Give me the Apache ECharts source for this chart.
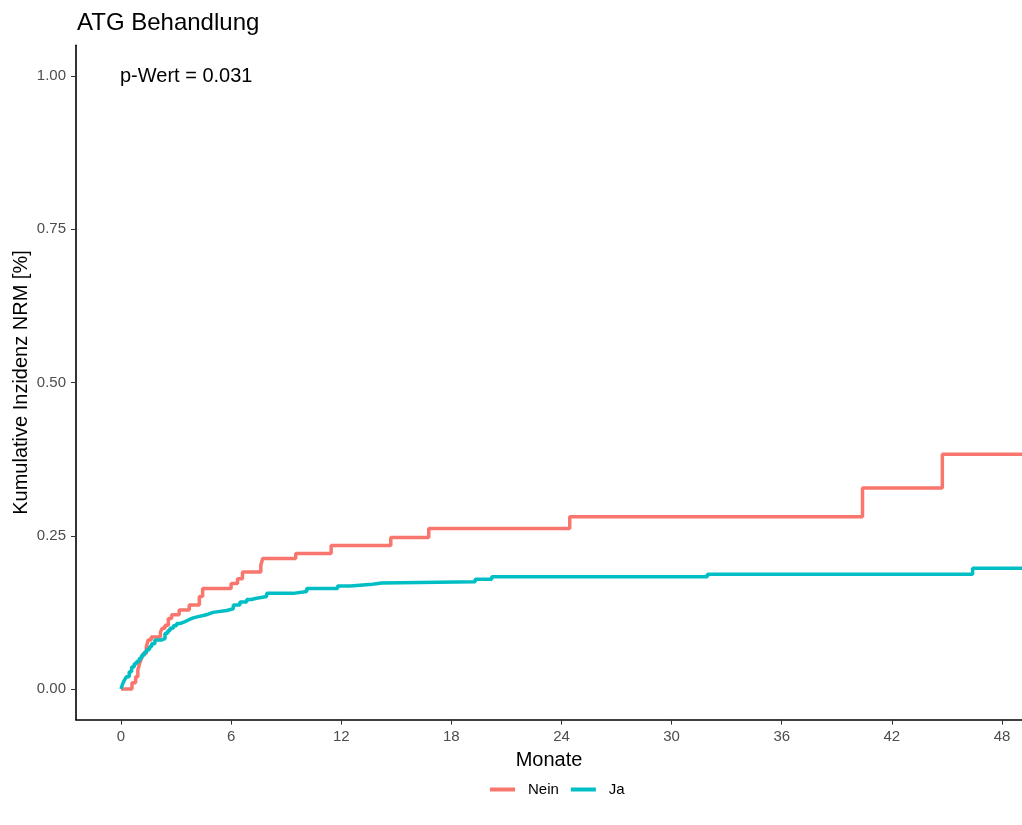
<!DOCTYPE html>
<html>
<head>
<meta charset="utf-8">
<script src="https://cdn.jsdelivr.net/npm/echarts@6/dist/echarts.min.js"></script>
<style>
html,body{margin:0;padding:0;background:#fff;}
#chart{width:1022px;height:825px;}
</style>
</head>
<body>
<div id="chart"></div>
<script>
// Data
var neinT = [0, 0.6, 0.8, 0.92, 1.02, 1.12, 1.22, 1.38, 1.48, 1.65, 2.15, 2.25, 2.4, 2.58, 2.76, 3.17, 3.72, 4.27, 4.45, 6.0, 6.35, 6.62, 7.62, 7.72, 9.52, 11.45, 14.7, 16.77, 24.45, 40.4, 44.75, 49.2];
var neinV = [0, 0.01, 0.02, 0.031, 0.042, 0.05, 0.058, 0.069, 0.08, 0.085, 0.093, 0.099, 0.104, 0.115, 0.121, 0.129, 0.137, 0.151, 0.164, 0.172, 0.18, 0.191, 0.202, 0.213, 0.221, 0.234, 0.247, 0.262, 0.281, 0.328, 0.383, 0.383];
var jaT = [0, 0.1, 0.2, 0.3, 0.45, 0.58, 0.72, 0.85, 1.0, 1.13, 1.27, 1.4, 1.55, 1.67, 1.85, 2.22, 2.4, 2.55, 2.67, 2.85, 3.03, 3.25, 3.49, 3.7, 3.94, 4.2, 4.48, 4.75, 5.02, 5.76, 6.12, 6.48, 6.85, 7.1, 7.39, 7.94, 9.39, 10.12, 11.8, 12.5, 13.7, 14.2, 19.3, 20.2, 31.95, 46.4, 49.2];
var jaV = [0, 0.009, 0.015, 0.02, 0.028, 0.036, 0.041, 0.045, 0.05, 0.055, 0.06, 0.064, 0.069, 0.074, 0.08, 0.082, 0.091, 0.095, 0.099, 0.103, 0.107, 0.11, 0.113, 0.116, 0.118, 0.12, 0.122, 0.125, 0.128, 0.131, 0.137, 0.142, 0.146, 0.148, 0.151, 0.156, 0.159, 0.164, 0.168, 0.171, 0.173, 0.175, 0.179, 0.183, 0.187, 0.197, 0.197];
var xTicks = [0, 6, 12, 18, 24, 30, 36, 42, 48];
var yTicks = [0, 0.25, 0.5, 0.75, 1.0];
var seriesNames = ['Nein', 'Ja'];
var colors = ['#F8766D', '#00BFC4'];

function pairs(t, v) { return t.map(function (x, i) { return [x, v[i]]; }); }

var chart = echarts.init(document.getElementById('chart'), null, {renderer: 'canvas'});
var font = 'Liberation Sans, Arial, sans-serif';
chart.setOption({
  animation: false,
  backgroundColor: '#ffffff',
  color: colors,
  title: {
    text: 'ATG Behandlung', left: 72, top: 6,
    textStyle: {fontFamily: font, fontSize: 24, fontWeight: 'normal', color: '#000'}
  },
  grid: {left: 76, right: 0, top: 45.35, bottom: 105.35, containLabel: false, outerBoundsMode: 'none'},
  legend: {
    data: seriesNames, left: 485, top: 777, icon: 'rect', itemWidth: 25, itemHeight: 4, itemGap: 12,
    textStyle: {fontFamily: font, fontSize: 15, color: '#000', padding: [0, 0, 0, 8]}
  },
  graphic: [{
    type: 'text', left: 120, top: 66,
    style: {text: 'p-Wert = 0.031', font: '20px Liberation Sans, Arial, sans-serif', fill: '#000'}
  }],
  xAxis: {
    type: 'value', min: -2.45, max: 49.09,
    name: 'Monate', nameLocation: 'middle', nameGap: 31, nameMoveOverlap: false,
    nameTextStyle: {fontFamily: font, fontSize: 20, color: '#000'},
    axisLine: {show: true, onZero: false, lineStyle: {color: '#000', width: 1.6}},
    axisTick: {show: true, length: 5, customValues: xTicks, lineStyle: {color: '#333', width: 1}},
    axisLabel: {customValues: xTicks, fontFamily: font, fontSize: 15, color: '#4D4D4D', margin: 10},
    splitLine: {show: false}
  },
  yAxis: {
    type: 'value', min: -0.05, max: 1.05,
    name: 'Kumulative Inzidenz NRM [%]', nameLocation: 'middle', nameGap: 45, nameRotate: 90, nameMoveOverlap: false,
    nameTextStyle: {fontFamily: font, fontSize: 20, color: '#000'},
    axisLine: {show: true, onZero: false, lineStyle: {color: '#000', width: 1.6}},
    axisTick: {show: true, length: 5, customValues: yTicks, lineStyle: {color: '#333', width: 1}},
    axisLabel: {customValues: yTicks, fontFamily: font, fontSize: 15, color: '#4D4D4D', margin: 10,
      formatter: function (v) { return v.toFixed(2); }},
    splitLine: {show: false}
  },
  series: [
    {name: seriesNames[0], type: 'line', step: 'end', showSymbol: false, data: pairs(neinT, neinV),
     lineStyle: {width: 3.5, color: colors[0]}, itemStyle: {color: colors[0]}},
    {name: seriesNames[1], type: 'line', step: 'end', showSymbol: false, data: pairs(jaT, jaV),
     lineStyle: {width: 3.5, color: colors[1]}, itemStyle: {color: colors[1]}}
  ]
});
</script>
</body>
</html>
